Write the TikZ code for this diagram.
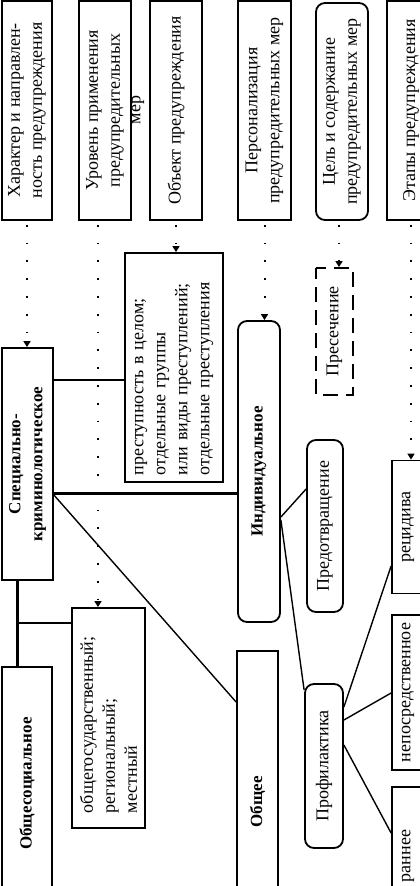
\documentclass[tikz,border=0pt]{standalone}
\usepackage{fontspec}
\setmainfont{Liberation Serif}
\usetikzlibrary{arrows.meta}
\begin{document}
\begin{tikzpicture}[x=1pt,y=-1pt,
  box/.style={draw, line width=1.8pt, rotate=90, inner sep=0pt, align=center, font=\fontsize{18}{22}\selectfont},
  rbox/.style={box, rounded corners=9pt},
  bbox/.style={box, font=\fontsize{17}{22}\selectfont\bfseries},
  rbbox/.style={bbox, rounded corners=9pt},
  lbox/.style={box, align=left},
  dbox/.style={box, dash pattern=on 15pt off 8pt, dash phase=4pt},
  sz/.style 2 args={minimum height=#1, minimum width=#2},
  plain/.style={rotate=90, inner sep=0pt, font=\fontsize{18}{22}\selectfont},
  conn/.style={line width=2pt},
  trunk/.style={line width=3pt},
  slim/.style={line width=1.4pt},
  dotarrow/.style={line width=2pt, dash pattern=on 1.8pt off 16pt, dash phase=14pt, -{Triangle[length=6pt,width=7pt]}},
]
\useasboundingbox (0,0) rectangle (420,886);
\clip (0,0) rectangle (420,886);

% header boxes
\node[box, sz={50}{219}] (h1) at (27,110.5) {Характер и направлен-\\ность предупреждения};
\node[box, sz={52}{219}] (h2) at (105,110.5) {Уровень применения\\предупредительных};
\node[plain] (mer) at (138,110) {мер};
\node[box, sz={52}{219}] (h3) at (176,110.5) {Объект предупреждения};
\node[box, sz={53}{219}] (h4) at (264.5,110.5) {Персонализация\\предупредительных мер};
\node[rbox, sz={52}{217}] (h5) at (342,111.5) {Цель и содержание\\предупредительных мер};
\node[box, sz={48}{219}] (h6) at (411,110.5) {Этапы предупреждения};

% main boxes
\node[bbox, sz={51}{232}] (spec) at (27.5,464) {Специально-\\криминологическое};
\node[bbox, sz={50}{233}] (obsoc) at (27,783.5) {Общесоциальное};
\node[lbox, sz={73}{220}, inner xsep=15pt, text width=190pt] (gos) at (108.5,718)
  {общегосударственный;\\региональный;\\местный};
\node[lbox, sz={98}{229}, inner xsep=7pt, text width=215pt] (prest) at (174,367.5)
  {преступность в целом;\\отдельные группы\\или виды преступлений;\\отдельные преступления};
\node[rbbox, sz={42}{301}] (indiv) at (259,471.5) {Индивидуальное};
\node[bbox, sz={41}{302}] (obshee) at (257.5,802) {Общее};
\node[dbox, sz={37}{127}] (preses) at (334.5,331.5) {Пресечение};
\node[rbox, sz={36}{172}] (predotv) at (325,526) {Предотвращение};
\node[rbox, sz={38}{164}] (prof) at (324,766) {Профилактика};
\node[box, sz={32}{133}] (recid) at (408,527) {рецидива};
\node[box, sz={32}{155}] (nepos) at (408,692.5) {непосредственное};
\node[box, sz={32}{138}] (rannee) at (408,856) {раннее};

% solid connectors
\coordinate (br) at (17,623);
\draw[trunk] (spec.west -| br) -- (obsoc.east -| br);
\draw[conn] (br) -- (br -| gos.north);
\draw[conn] (spec.south |- 0,380) -- (prest.north |- 0,380);
\draw[trunk] (spec.south |- 0,493) -- (indiv.north |- 0,493);
\draw[slim] (spec.south |- 0,495) -- (obshee.north |- 0,702);
\draw[slim] (indiv.south |- 0,517) -- (predotv.north |- 0,489);
\draw[slim] (indiv.south |- 0,520) -- (prof.north |- 0,690);
\draw[slim] (prof.south |- 0,707) -- (recid.north |- 0,566);
\draw[slim] (prof.south |- 0,720) -- (nepos.north |- 0,693);
\draw[slim] (prof.south |- 0,745) -- (rannee.north |- 0,833);

% dotted arrows
\draw[dotarrow] (h1.west) -- (h1.west |- spec.east);
\draw[dotarrow] (h2.west -| 98,0) -- (gos.east -| 98,0);
\draw[dotarrow] (h3.west) -- (h3.west |- prest.east);
\draw[dotarrow] (h4.west) -- (h4.west |- indiv.east);
\draw[dotarrow] (h5.west -| 339,0) -- (preses.east -| 339,0);
\draw[dotarrow] (h6.west) -- (h6.west |- recid.east);
\end{tikzpicture}
\end{document}
